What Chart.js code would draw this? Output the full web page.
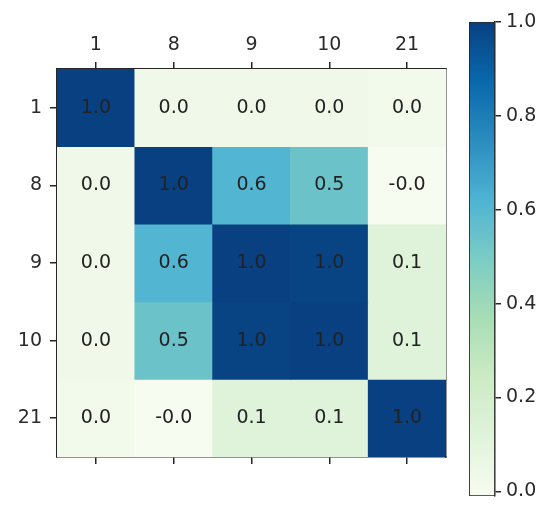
<!DOCTYPE html>
<html>
<head>
<meta charset="utf-8">
<script src="https://cdn.jsdelivr.net/npm/chart.js@4.4.1/dist/chart.umd.min.js"></script>
<style>
  html, body { margin: 0; padding: 0; background: #ffffff; }
  #wrap { position: relative; width: 556px; height: 506px; overflow: hidden; }
  #heat { position: absolute; left: 0; top: 0; }
  #cbar { position: absolute; left: 460px; top: 0; }
</style>
</head>
<body>
<div id="wrap">
  <canvas id="heat" width="460" height="506"></canvas>
  <canvas id="cbar" width="96" height="506"></canvas>
</div>
<script>
// Variables of the correlation matrix (row / column order)
const variables = ['1', '8', '9', '10', '21'];

// Correlation rows
const row1  = [1.00,  0.03,  0.03, 0.03,  0.02];
const row8  = [0.03,  1.00,  0.61, 0.54, -0.01];
const row9  = [0.03,  0.61,  1.00, 0.99,  0.12];
const row10 = [0.03,  0.54,  0.99, 1.00,  0.12];
const row21 = [0.02, -0.01,  0.12, 0.12,  1.00];

// Colour bar tick values
const colorbarTicks = [0.0, 0.2, 0.4, 0.6, 0.8, 1.0];

// GnBu colour ramp
const gnbu = ['#f7fcf0', '#e0f3db', '#ccebc5', '#a8ddb5', '#7bccc4',
              '#4eb3d3', '#2b8cbe', '#0868ac', '#084081'];

const matrix = [row1, row8, row9, row10, row21];
const allValues = matrix.flat();
const vmin = Math.min(...allValues);
const vmax = Math.max(...allValues);

function hexToRgb(h) {
  return [parseInt(h.slice(1, 3), 16), parseInt(h.slice(3, 5), 16), parseInt(h.slice(5, 7), 16)];
}
function colorFor(v) {
  let t = (v - vmin) / (vmax - vmin);
  t = Math.max(0, Math.min(1, t));
  const pos = t * (gnbu.length - 1);
  const i = Math.min(Math.floor(pos), gnbu.length - 2);
  const f = pos - i;
  const a = hexToRgb(gnbu[i]), b = hexToRgb(gnbu[i + 1]);
  const c = a.map((x, k) => Math.round(x + (b[k] - x) * f));
  return `rgb(${c[0]},${c[1]},${c[2]})`;
}

const fontSize = 19;
Chart.defaults.font.family = "'DejaVu Sans', sans-serif";
Chart.defaults.font.size = fontSize;
Chart.defaults.color = '#2b2b2b';

const axisColor = '#262626';
const axisWidth = 1.5;

// One dataset per matrix row; each cell is a floating bar spanning its row slot
const datasets = matrix.map((row, r) => ({
  label: variables[r],
  data: row.map(() => [r - 0.5, r + 0.5]),
  values: row,
  backgroundColor: row.map(colorFor),
  borderWidth: 0,
  barPercentage: 1.0,
  categoryPercentage: 1.0,
  grouped: false
}));

// Writes each cell's value at its centre
const cellLabels = {
  id: 'cellLabels',
  afterDatasetsDraw(chart) {
    const ctx = chart.ctx;
    ctx.save();
    ctx.font = fontSize + "px 'DejaVu Sans', sans-serif";
    ctx.fillStyle = '#222222';
    ctx.textAlign = 'center';
    ctx.textBaseline = 'middle';
    chart.data.datasets.forEach((ds, di) => {
      chart.getDatasetMeta(di).data.forEach((el, ci) => {
        const p = el.getCenterPoint();
        ctx.fillText(ds.values[ci].toFixed(1), p.x, p.y);
      });
    });
    ctx.restore();
  }
};

new Chart(document.getElementById('heat'), {
  type: 'bar',
  data: { labels: variables, datasets },
  options: {
    responsive: false,
    animation: false,
    devicePixelRatio: 1,
    layout: { padding: 0 },
    plugins: { legend: { display: false }, tooltip: { enabled: false } },
    scales: {
      x: {
        type: 'category',
        position: 'top',
        offset: true,
        grid: { offset: false, drawOnChartArea: false, tickLength: 7, color: axisColor, lineWidth: axisWidth },
        border: { display: true, color: axisColor, width: axisWidth },
        ticks: { padding: 6, maxRotation: 0 },
        afterFit(s) { s.height = 69; }
      },
      xb: {
        type: 'category',
        labels: variables,
        position: 'bottom',
        offset: true,
        grid: { offset: false, drawOnChartArea: false, tickLength: 7, color: axisColor, lineWidth: axisWidth },
        border: { display: true, color: axisColor, width: axisWidth },
        ticks: { callback: () => '' },
        afterFit(s) { s.height = 49; }
      },
      y: {
        type: 'linear',
        position: 'left',
        reverse: true,
        min: -0.5,
        max: 4.5,
        afterBuildTicks(s) { s.ticks = variables.map((_, i) => ({ value: i })); },
        ticks: { callback: v => variables[v], padding: 8 },
        grid: { drawOnChartArea: false, tickLength: 7, color: axisColor, lineWidth: axisWidth },
        border: { display: true, color: axisColor, width: axisWidth },
        afterFit(s) { s.width = 57; }
      },
      yr: {
        type: 'linear',
        position: 'right',
        min: -0.5,
        max: 4.5,
        ticks: { display: false },
        grid: { drawOnChartArea: false, drawTicks: false },
        border: { display: true, color: axisColor, width: axisWidth },
        afterFit(s) { s.width = 14; }
      }
    }
  },
  plugins: [cellLabels]
});

// Colour bar: a single floating bar from vmin to vmax filled with the ramp
new Chart(document.getElementById('cbar'), {
  type: 'bar',
  data: {
    labels: [''],
    datasets: [{
      data: [[vmin, vmax]],
      backgroundColor(ctx) {
        const chart = ctx.chart;
        if (!chart.chartArea) return gnbu[4];
        const y = chart.scales.y;
        const g = chart.ctx.createLinearGradient(0, y.getPixelForValue(vmin), 0, y.getPixelForValue(vmax));
        gnbu.forEach((c, i) => g.addColorStop(i / (gnbu.length - 1), c));
        return g;
      },
      borderColor: axisColor,
      borderWidth: 1.2,
      borderSkipped: false,
      barPercentage: 1.0,
      categoryPercentage: 1.0
    }]
  },
  options: {
    responsive: false,
    animation: false,
    devicePixelRatio: 1,
    layout: { padding: { left: 9, top: 22, bottom: 10, right: 0 } },
    plugins: { legend: { display: false }, tooltip: { enabled: false } },
    scales: {
      x: { display: false },
      y: {
        type: 'linear',
        position: 'right',
        min: vmin,
        max: vmax,
        afterBuildTicks(s) { s.ticks = colorbarTicks.map(v => ({ value: v })); },
        ticks: { callback: v => v.toFixed(1), padding: 5 },
        grid: { drawOnChartArea: false, tickLength: 6, color: axisColor, lineWidth: axisWidth },
        border: { display: true, color: axisColor, width: axisWidth },
        afterFit(s) { s.width = 61; s.paddingTop = 0; s.paddingBottom = 0; }
      }
    }
  }
});
</script>
</body>
</html>
